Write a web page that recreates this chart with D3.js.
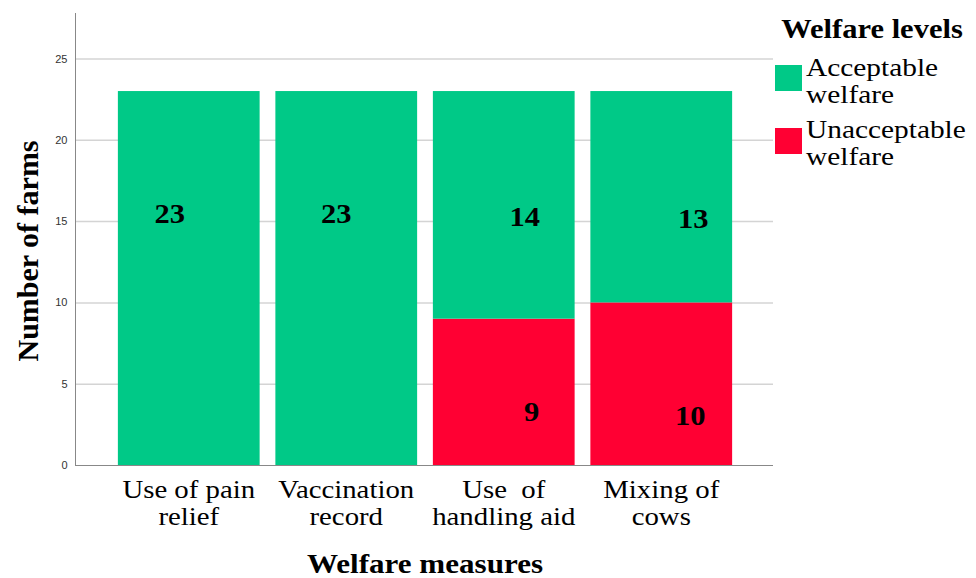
<!DOCTYPE html>
<meta charset="utf-8">
<body style="margin:0;background:#fff">
<script src="https://d3js.org/d3.v7.min.js"></script>
<script>

// Chart data.

var measures = [["Use of pain", "relief"], ["Vaccination", "record"], ["Use  of", "handling aid"], ["Mixing of", "cows"]];
var acceptable = [23, 23, 14, 13];
var unacceptable = [0, 0, 9, 10];
var levels = [["Acceptable", "welfare"], ["Unacceptable", "welfare"]];
var yTicks = [0, 5, 10, 15, 20, 25];

var colors = ["#00c987", "#ff0033"];
var serif = "Liberation Serif";

// The source picture is a little stretched sideways; text is widened to match.
var sx = 1.13;

var width = 976,
    height = 578;

var svg = d3.select("body").append("svg")
    .attr("width", width)
    .attr("height", height);

// Draws (possibly multi-line) serif text at a point, widened by sx.
function label(parent, x, y, lines, size, bold, anchor, gap) {
    var t = parent.append("text")
        .attr("transform", "translate(" + x + "," + y + ") scale(" + sx + ",1)")
        .attr("text-anchor", anchor || "middle")
        .style("font-family", serif)
        .style("white-space", "pre")
        .attr("font-weight", bold ? "bold" : "normal")
        .attr("font-size", size + "px");
    [].concat(lines).forEach(function(s, i) {
        t.append("tspan").attr("x", 0).attr("y", i * (gap || 0)).text(s);
    });
    return t;
}

// Scales.

var x = d3.scaleBand()
    .domain(d3.range(measures.length))
    .range([110, 740])
    .paddingInner(0.1)
    .paddingOuter(0.05);

var y = d3.scaleLinear()
    .domain([0, 27.8])
    .range([465, 13]);

// Grid lines.

svg.append("g")
    .selectAll("line")
    .data(yTicks.slice(1))
    .join("line")
    .attr("x1", 75)
    .attr("x2", 773)
    .attr("y1", d => y(d) + 0.5)
    .attr("y2", d => y(d) + 0.5)
    .attr("stroke", "#d4d4d4")
    .attr("stroke-width", 1.5);

// Bars: unacceptable at the bottom, acceptable stacked on top.

var bars = svg.append("g");

bars.selectAll(".bad")
    .data(unacceptable)
    .join("rect")
    .attr("x", (d, i) => x(i))
    .attr("width", x.bandwidth())
    .attr("y", d => y(d))
    .attr("height", d => y(0) - y(d))
    .attr("fill", colors[1]);

bars.selectAll(".good")
    .data(acceptable)
    .join("rect")
    .attr("x", (d, i) => x(i))
    .attr("width", x.bandwidth())
    .attr("y", (d, i) => y(d + unacceptable[i]))
    .attr("height", (d, i) => y(unacceptable[i]) - y(d + unacceptable[i]))
    .attr("fill", colors[0]);

// Value labels (placed by hand in the original).

var goodDx = [-19, -10, 21, 32],
    goodAt = [14.9, 14.9, 14.7, 14.6],
    badDx = [0, 0, 28, 29],
    badAt = [0, 0, 2.7, 2.45];

var values = svg.append("g");

acceptable.forEach(function(d, i) {
    label(values, x(i) + x.bandwidth() / 2 + goodDx[i], y(goodAt[i]), String(d), 27, true);
});

unacceptable.forEach(function(d, i) {
    if (d > 0) label(values, x(i) + x.bandwidth() / 2 + badDx[i], y(badAt[i]), String(d), 27, true);
});

// Axes.

var yAxis = svg.append("g")
    .attr("transform", "translate(75.5,0)")
    .call(d3.axisLeft(y).tickValues(yTicks).tickSize(0).tickPadding(8));

yAxis.select(".domain").attr("stroke", "#888").attr("d", "M0," + y(0) + "V13");
yAxis.selectAll("text")
    .attr("font-family", "Liberation Sans")
    .attr("font-size", "11px")
    .attr("fill", "#333");

svg.append("line")
    .attr("x1", 75)
    .attr("x2", 773)
    .attr("y1", y(0) + 0.5)
    .attr("y2", y(0) + 0.5)
    .attr("stroke", "#888");

// Category labels.

var cats = svg.append("g");

measures.forEach(function(d, i) {
    label(cats, x(i) + x.bandwidth() / 2, 498, d, 25.5, false, "middle", 27);
});

// Axis titles.

label(svg, 425, 573, "Welfare measures", 27.5, true);

svg.append("text")
    .attr("transform", "translate(38,251) rotate(-90)")
    .attr("text-anchor", "middle")
    .style("font-family", serif)
    .attr("font-weight", "bold")
    .attr("font-size", "30px")
    .text("Number of farms");

// Legend.

var legend = svg.append("g");

label(legend, 872, 38, "Welfare levels", 27, true);

levels.forEach(function(d, i) {
    legend.append("rect")
        .attr("x", 775)
        .attr("y", 65 + i * 63)
        .attr("width", 27)
        .attr("height", 26)
        .attr("fill", colors[i]);
    label(legend, 806, 76 + i * 61.5, d, 26, false, "start", 27.5);
});

</script>
